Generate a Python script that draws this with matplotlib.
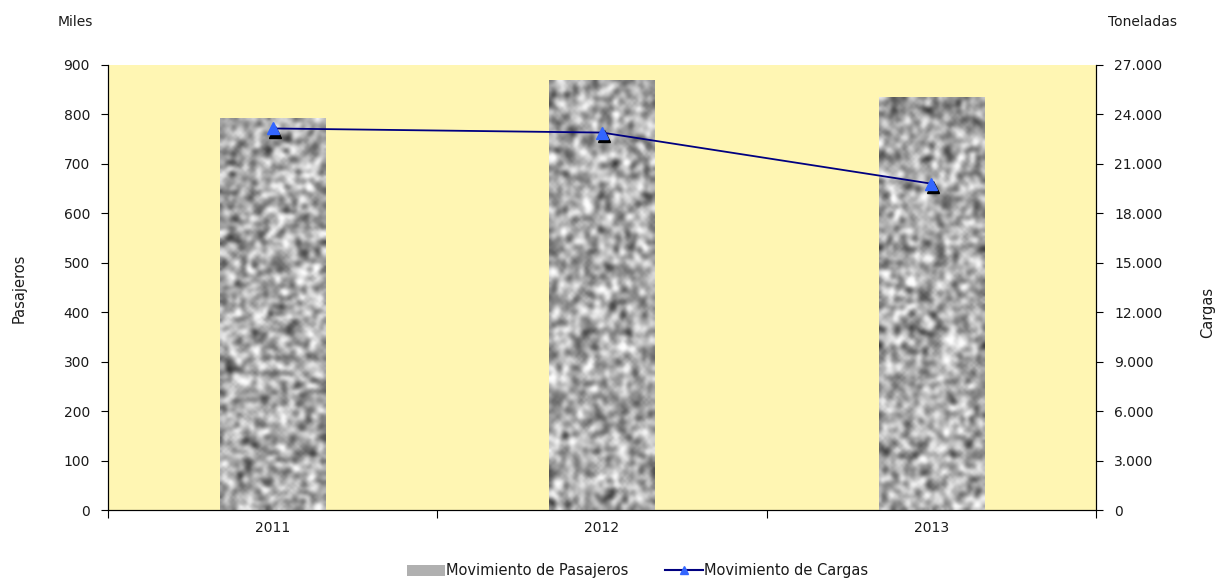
import numpy as np
import matplotlib.pyplot as plt
import matplotlib.transforms as mtransforms
from matplotlib.patches import Patch
from matplotlib.lines import Line2D

years = ['2011', '2012', '2013']
pasajeros = [792, 870, 835]          # miles
cargas = [23150, 22900, 19800]       # toneladas

plt.rcParams['font.family'] = 'DejaVu Sans'
plt.rcParams['font.size'] = 10
plt.rcParams['text.color'] = '#1a1a1a'
plt.rcParams['xtick.labelcolor'] = '#1a1a1a'
plt.rcParams['ytick.labelcolor'] = '#1a1a1a'

fig = plt.figure(figsize=(12.17, 5.8), dpi=100)
ax = fig.add_axes([108/1217, 1-510/580, 988/1217, 445/580])
ax2 = ax.twinx()

bg = '#FFF6B3'
ax.set_facecolor(bg)
x = np.arange(len(years))
bars = ax.bar(x, pasajeros, width=0.32, color='#b0b0b0', zorder=2)


def smooth(a):
    return (a + np.roll(a, 1, 0) + np.roll(a, -1, 0) + np.roll(a, 1, 1) + np.roll(a, -1, 1)) / 5


# granite-like texture on bars
rng = np.random.default_rng(3)
for b in bars:
    noise = rng.random((170, 44))
    noise = smooth(smooth(noise))
    noise = (noise - noise.mean()) / noise.std()
    x0, y0 = b.get_x(), b.get_y()
    im = ax.imshow(noise, cmap='gray', vmin=-4.6, vmax=2.3, aspect='auto',
                   extent=[x0, x0 + b.get_width(), y0, y0 + b.get_height()],
                   zorder=3, interpolation='bicubic')
    im.set_clip_path(b)

ax.set_xlim(-0.5, 2.5)
ax.set_ylim(0, 900)
ax.set_yticks(range(0, 901, 100))
ax.set_xticks([-0.5, 0.5, 1.5, 2.5])
ax.set_xticklabels([])
ax.set_xticks(x, minor=True)
ax.set_xticklabels(years, minor=True)
ax.tick_params(axis='x', which='minor', length=0, pad=8)
ax.tick_params(axis='x', which='major', length=6, direction='out')
ax.tick_params(axis='y', length=5, direction='out', pad=8)
ax.spines['top'].set_visible(False)
ax2.spines['top'].set_visible(False)

ax2.set_ylim(0, 27000)
ax2.set_yticks(range(0, 27001, 3000))
ax2.set_yticklabels([f'{v:,}'.replace(',', '.') for v in range(0, 27001, 3000)])
ax2.tick_params(axis='y', length=5, direction='out', pad=8)

shadow = mtransforms.offset_copy(ax2.transData, fig=fig, x=1.5, y=-2.5, units='points')
ax2.plot(x, cargas, linestyle='none', marker='^', markersize=8, color='black',
         transform=shadow, zorder=4)
ax2.plot(x, cargas, color='#000080', linewidth=1.3, marker='^', markersize=8,
         markerfacecolor='#3366FF', markeredgecolor='#3366FF', zorder=5)

fig.text(19/1217, 1-288/580, 'Pasajeros', rotation=90, ha='center', va='center', fontsize=10.5)
fig.text(1208/1217, 1-312/580, 'Cargas', rotation=90, ha='center', va='center', fontsize=10.5)
fig.text(75/1217, 1-22/580, 'Miles', ha='center', va='center', fontsize=10)
fig.text(1143/1217, 1-22/580, 'Toneladas', ha='center', va='center', fontsize=10)

handles = [Patch(facecolor='#b0b0b0', edgecolor='none'),
           Line2D([], [], color='#000080', marker='^', markerfacecolor='#3366FF',
                  markeredgecolor='#3366FF', markersize=6)]
fig.legend(handles, ['Movimiento de Pasajeros', 'Movimiento de Cargas'],
           loc='center', bbox_to_anchor=(0.524, 1-571/580), ncol=2, frameon=False,
           fontsize=10.5, handlelength=2.6, handletextpad=0.1, columnspacing=2.5)

fig.savefig('out.png', dpi=100)
